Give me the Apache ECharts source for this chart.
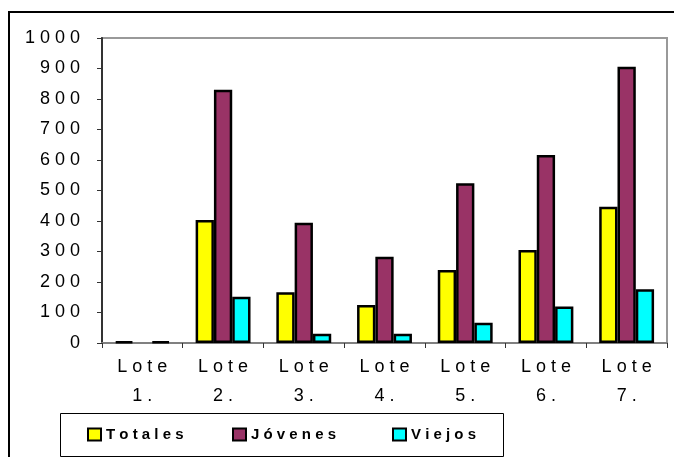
<!DOCTYPE html>
<html>
<head>
<meta charset="utf-8">
<script src="https://cdn.jsdelivr.net/npm/echarts@6/dist/echarts.min.js"></script>
<style>
  html, body { margin: 0; padding: 0; background: #fff; }
  #wrap { position: relative; width: 674px; height: 457px; overflow: hidden; }
  #frame { position: absolute; left: 8px; top: 11px; width: 720px; height: 500px; border: 2px solid #000; }
  #chart { position: absolute; left: 0; top: 0; width: 674px; height: 457px; }
</style>
</head>
<body>
<div id="wrap">
  <div id="frame"></div>
  <div id="chart"></div>
</div>
<script>
const categories = ['Lote 1.', 'Lote 2.', 'Lote 3.', 'Lote 4.', 'Lote 5.', 'Lote 6.', 'Lote 7.'];
const totales = [5, 403, 166, 125, 239, 305, 447];
const jovenes = [0, 830, 394, 283, 524, 616, 906];
const viejos = [5, 152, 30, 30, 66, 120, 176];
const yTicks = [0, 100, 200, 300, 400, 500, 600, 700, 800, 900, 1000];

const font = '"Liberation Sans", Arial, sans-serif';
const spaced = s => s.split(' ').map(w => w.split('').join(' '));

const chart = echarts.init(document.getElementById('chart'));

const bar = (name, data, color) => ({
  name: name,
  type: 'bar',
  // zero values are not drawn, as in the original
  data: data.map(v => (v === 0 ? '-' : v)),
  barGap: '0%',
  barCategoryGap: '32%',
  itemStyle: { color: color, borderColor: '#000', borderWidth: 2.5 },
  emphasis: { disabled: true }
});

const legendAt = (name, left) => ({
  data: [name],
  left: left,
  top: 427,
  padding: 0,
  itemWidth: 13,
  itemHeight: 12,
  itemGap: 0,
  icon: 'rect',
  selectedMode: false,
  itemStyle: { borderColor: '#000', borderWidth: 2 },
  formatter: n => n.split('').join(' '),
  textStyle: { fontFamily: font, fontSize: 15, fontWeight: 'bold', color: '#000' }
});

chart.setOption({
  animation: false,
  backgroundColor: 'transparent',
  grid: {
    left: 102, right: 7, top: 38, bottom: 114,
    show: true, borderColor: '#999', borderWidth: 2
  },
  xAxis: {
    type: 'category',
    data: categories,
    axisLine: { lineStyle: { color: '#808080', width: 2 } },
    axisTick: { show: true, length: 5, lineStyle: { color: '#333', width: 1 } },
    axisLabel: {
      margin: 10,
      lineHeight: 29,
      fontFamily: font,
      fontSize: 18,
      color: '#000',
      formatter: v => spaced(v).join('\n')
    }
  },
  yAxis: {
    type: 'value',
    min: yTicks[0],
    max: yTicks[yTicks.length - 1],
    interval: 100,
    splitLine: { show: false },
    axisLine: { show: true, lineStyle: { color: '#333', width: 2 } },
    axisTick: { show: true, length: 5, lineStyle: { color: '#333', width: 1 } },
    axisLabel: {
      margin: 22,
      fontFamily: font,
      fontSize: 18,
      color: '#000',
      formatter: v => String(v).split('').join(' ')
    }
  },
  legend: [
    legendAt('Totales', 87),
    legendAt('Jóvenes', 232),
    legendAt('Viejos', 392)
  ],
  graphic: [{
    type: 'rect',
    shape: { x: 60.5, y: 413.5, width: 443, height: 43 },
    style: { fill: 'none', stroke: '#000', lineWidth: 1 },
    silent: true
  }],
  series: [
    bar('Totales', totales, '#FFFF00'),
    bar('Jóvenes', jovenes, '#993366'),
    bar('Viejos', viejos, '#00FFFF')
  ]
});
</script>
</body>
</html>
